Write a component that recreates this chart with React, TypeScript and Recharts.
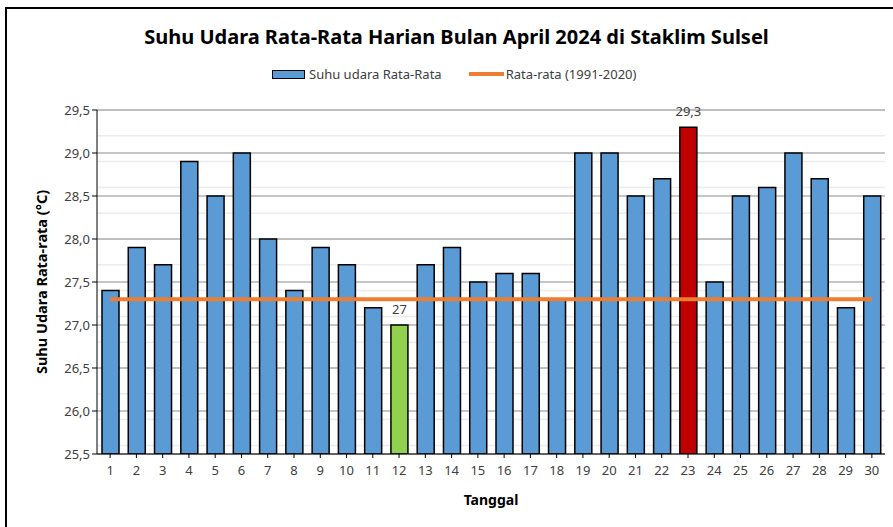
import { ComposedChart, Bar, Line, XAxis, YAxis, CartesianGrid, Cell, LabelList, Label } from 'recharts';

const days = ['1','2','3','4','5','6','7','8','9','10','11','12','13','14','15','16','17','18','19','20','21','22','23','24','25','26','27','28','29','30'];
const dailyTemp = [27.4, 27.9, 27.7, 28.9, 28.5, 29.0, 28.0, 27.4, 27.9, 27.7, 27.2, 27.0, 27.7, 27.9, 27.5, 27.6, 27.6, 27.3, 29.0, 29.0, 28.5, 28.7, 29.3, 27.5, 28.5, 28.6, 29.0, 28.7, 27.2, 28.5];
const normalTemp = [27.3, 27.3, 27.3, 27.3, 27.3, 27.3, 27.3, 27.3, 27.3, 27.3, 27.3, 27.3, 27.3, 27.3, 27.3, 27.3, 27.3, 27.3, 27.3, 27.3, 27.3, 27.3, 27.3, 27.3, 27.3, 27.3, 27.3, 27.3, 27.3, 27.3];
const minDay = '12';
const maxDay = '23';
const yTicks = [25.5, 26.0, 26.5, 27.0, 27.5, 28.0, 28.5, 29.0, 29.5];
const minorGrid = Array.from({ length: 41 }, (_, i) => Math.round((25.5 + i * 0.1) * 10) / 10);

const data = days.map((d, i) => ({ day: d, temp: dailyTemp[i], normal: normalTemp[i] }));

const fmt = (v: number) => String(v).replace('.', ',');
const font = '"Noto Sans", sans-serif';

function barColor(day: string) {
  if (day === minDay) return '#92D050';
  if (day === maxDay) return '#C00000';
  return '#5B9BD5';
}

function ExtremeLabel(props: any) {
  const { x, y, width, value, index } = props;
  const d = days[index];
  if (d !== minDay && d !== maxDay) return null;
  return (
    <text x={x + width / 2} y={y - 11} textAnchor="middle" fontSize={13} fill="#404040" fontFamily={font}>
      {fmt(value)}
    </text>
  );
}

export default function App() {
  return (
    <div style={{ position: 'absolute', left: 0, top: 0, width: 893, height: 527, overflow: 'hidden', background: '#fff' }}>
      <div style={{ position: 'absolute', left: 5, top: 7, width: 920, height: 560, border: '2px solid #000' }} />
      <div style={{ position: 'absolute', left: 0, top: 23, width: 913, textAlign: 'center', fontFamily: font, fontWeight: 700, fontSize: 20, color: '#000' }}>
        Suhu Udara Rata-Rata Harian Bulan April 2024 di Staklim Sulsel
      </div>
      <div style={{ position: 'absolute', left: 272, top: 65, display: 'flex', alignItems: 'center', fontFamily: font, fontSize: 13, color: '#404040', whiteSpace: 'nowrap' }}>
        <span style={{ display: 'inline-block', width: 31, height: 7, background: '#5B9BD5', border: '1.5px solid #000', marginRight: 4 }} />
        <span style={{ marginRight: 27 }}>Suhu udara Rata-Rata</span>
        <span style={{ display: 'inline-block', width: 35, height: 4, background: '#ED7D31', marginRight: 2 }} />
        <span>Rata-rata (1991-2020)</span>
      </div>
      <div style={{ position: 'absolute', left: 0, top: 0 }}>
        <ComposedChart width={893} height={527} data={data} margin={{ top: 110, right: 8, bottom: 43, left: 30 }}>
          <CartesianGrid horizontalValues={minorGrid} vertical={false} stroke="#ececec" strokeWidth={1.5} />
          <CartesianGrid horizontalValues={yTicks} vertical={false} stroke="#8c8c8c" strokeWidth={1} />
          <XAxis
            dataKey="day"
            height={30}
            stroke="#000"
            tickLine={{ stroke: '#000' }}
            tickSize={4}
            tick={{ fill: '#404040', fontSize: 13, fontFamily: font, dy: 6 }}
            interval={0}
          >
            <Label
              content={() => (
                <text x={491} y={505} textAnchor="middle" fontSize={14} fontWeight={700} fontFamily={font} fill="#000">
                  Tanggal
                </text>
              )}
            />
          </XAxis>
          <YAxis
            width={67}
            domain={[25.5, 29.5]}
            ticks={yTicks}
            tickFormatter={(v: number) => v.toFixed(1).replace('.', ',')}
            stroke="#000"
            tickLine={{ stroke: '#000' }}
            tickSize={5}
            tick={{ fill: '#404040', fontSize: 13, fontFamily: font }}
            allowDataOverflow
          >
            <Label
              content={() => (
                <text x={43} y={282} transform="rotate(-90 43 282)" textAnchor="middle" dominantBaseline="middle" fontSize={14.5} fontWeight={700} fontFamily={font} fill="#000">
                  Suhu Udara Rata-rata (°C)
                </text>
              )}
            />
          </YAxis>
          <YAxis yAxisId="right" orientation="right" width={0} domain={[25.5, 29.5]} tick={false} tickLine={false} stroke="#000" />
          <XAxis xAxisId="top" orientation="top" dataKey="day" height={0} tick={false} tickLine={false} stroke="#000" />
          <Bar dataKey="temp" name="Suhu udara Rata-Rata" barSize={17} stroke="#000" strokeWidth={1.5} isAnimationActive={false}>
            {data.map((d) => (
              <Cell key={d.day} fill={barColor(d.day)} />
            ))}
            <LabelList dataKey="temp" content={<ExtremeLabel />} />
          </Bar>
          <Line dataKey="normal" name="Rata-rata (1991-2020)" stroke="#ED7D31" strokeWidth={4} dot={false} activeDot={false} isAnimationActive={false} />
        </ComposedChart>
      </div>
    </div>
  );
}
